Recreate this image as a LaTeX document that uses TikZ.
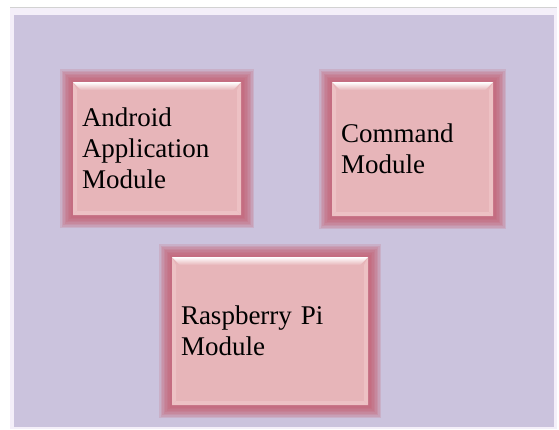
\documentclass[tikz,border=0pt]{standalone}
\usepackage{fontspec}
\setmainfont{Liberation Serif}
\newfontfamily\modfont{Liberation Serif}

\definecolor{bgLav}{HTML}{CBC3DD}
\definecolor{bgEdge}{HTML}{F4EFF9}
\definecolor{boxPink}{HTML}{E7B5B9}
\definecolor{bevelPink}{HTML}{EDC1C4}
\definecolor{glowRose}{HTML}{C45A6C}

\tikzset{
  glow/.style={preaction={draw=glowRose, line width=#1, opacity=.18, rounded corners=#1/3}},
  modbox/.style={rectangle, fill=boxPink, inner xsep=9pt, inner ysep=0pt,
    align=left, text=black, font=\modfont\fontsize{27}{31}\selectfont,
    glow=26pt, glow=23pt, glow=20pt, glow=17pt, glow=14pt, glow=11pt, glow=8pt, glow=5pt,
    path picture={
      % side and bottom bevels
      \fill[bevelPink] (path picture bounding box.north west)
        -- ([xshift=4pt,yshift=-8pt]path picture bounding box.north west)
        -- ([xshift=4pt,yshift=4pt]path picture bounding box.south west)
        -- (path picture bounding box.south west) -- cycle;
      \fill[bevelPink] (path picture bounding box.north east)
        -- ([xshift=-4pt,yshift=-8pt]path picture bounding box.north east)
        -- ([xshift=-4pt,yshift=4pt]path picture bounding box.south east)
        -- (path picture bounding box.south east) -- cycle;
      \fill[bevelPink] (path picture bounding box.south west)
        -- ([xshift=4pt,yshift=4pt]path picture bounding box.south west)
        -- ([xshift=-4pt,yshift=4pt]path picture bounding box.south east)
        -- (path picture bounding box.south east) -- cycle;
      % top highlight
      \fill[top color=white, bottom color=boxPink]
        (path picture bounding box.north west)
        -- (path picture bounding box.north east)
        -- ([xshift=-8pt,yshift=-8pt]path picture bounding box.north east)
        -- ([xshift=8pt,yshift=-8pt]path picture bounding box.north west) -- cycle;
    }}
}

\begin{document}
\begin{tikzpicture}[x=1pt,y=-1pt]
\useasboundingbox (0,0) rectangle (559,429);
% background panel
\fill[white] (0,0) rectangle (559,429);
\fill[bgEdge] (10,8) rectangle (557,429);
\draw[gray!35] (10,7.5) -- (557,7.5);
\fill[bgLav] (14,15) rectangle (554,427);

\begin{scope}[every node/.style={modbox}]
    \node[minimum width=168pt, minimum height=133pt, text width=150pt] (android) at (157,148.5) {Android\\Application\\Module};
    \node[minimum width=161pt, minimum height=134pt, text width=143pt] (command) at (412.5,149) {Command\\Module};
    \node[minimum width=196pt, minimum height=148pt, text width=178pt] (raspi) at (270,331) {Raspberry Pi\\Module};
\end{scope}
\end{tikzpicture}
\end{document}
